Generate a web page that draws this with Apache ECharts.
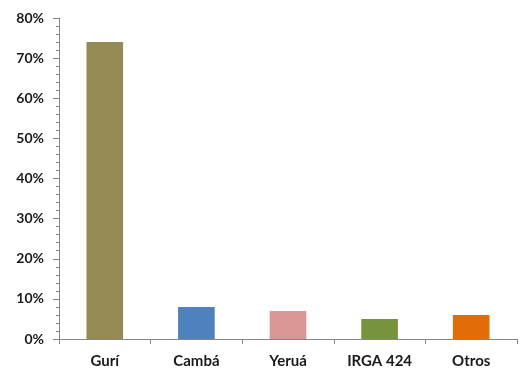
<!DOCTYPE html>
<html><head><meta charset="utf-8">
<script src="https://cdn.jsdelivr.net/npm/echarts@6/dist/echarts.min.js"></script>
<style>html,body{margin:0;padding:0;background:#fff}#c{width:528px;height:377px}</style>
</head><body><div id="c"></div>
<script>
const categories = ['Gurí', 'Cambá', 'Yeruá', 'IRGA 424', 'Otros'];
const values = [74, 8, 7, 5, 6];
const colors = ['#948A54', '#4F81BD', '#D99694', '#77933C', '#E36C09'];
const yTicks = [0, 10, 20, 30, 40, 50, 60, 70, 80];

const chart = echarts.init(document.getElementById('c'));
const axisColor = '#868686';
chart.setOption({
  animation: false,
  grid: { left: 59, right: 11, top: 18, bottom: 38 },
  xAxis: {
    type: 'category',
    data: categories,
    axisLine: { lineStyle: { color: axisColor, width: 1 } },
    axisTick: { show: true, length: 5, lineStyle: { color: axisColor } },
    axisLabel: { color: '#1a1a1a', fontFamily: 'Lato', fontWeight: 'bold', fontSize: 15, margin: 15 }
  },
  yAxis: {
    type: 'value',
    min: yTicks[0], max: yTicks[yTicks.length - 1], interval: 10,
    axisLine: { show: true, lineStyle: { color: axisColor, width: 1 } },
    axisTick: { show: true, length: 6, lineStyle: { color: axisColor } },
    minorTick: { show: true, splitNumber: 5, length: 3, lineStyle: { color: axisColor } },
    splitLine: { show: false },
    axisLabel: { color: '#1a1a1a', fontFamily: 'Lato', fontWeight: 'bold', fontSize: 14, margin: 15, formatter: v => v + '%' }
  },
  series: [{
    type: 'bar',
    data: values.map((v, i) => ({ value: v, itemStyle: { color: colors[i] } })),
    barWidth: '40%'
  }]
});
</script></body></html>
